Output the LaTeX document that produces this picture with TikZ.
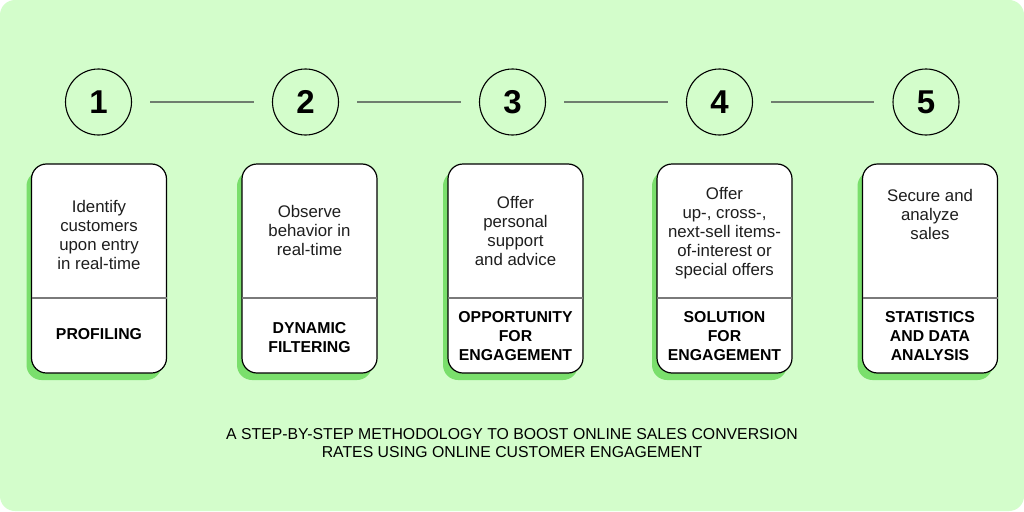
\documentclass[tikz,border=0pt]{standalone}
\usepackage{fontspec}
\setmainfont{Liberation Sans}
\usetikzlibrary{shadows,calc}
\definecolor{bgmint}{HTML}{D3FDCB}
\definecolor{shadowgreen}{HTML}{7ADF6C}
\definecolor{connline}{HTML}{6F7D6F}
\definecolor{divgray}{HTML}{7A7A7A}
\definecolor{inktext}{HTML}{1E1E1E}
\tikzset{
  stepcircle/.style={circle, draw=black, line width=1.1pt, minimum size=66pt, inner sep=0pt,
    font=\fontsize{33}{36}\selectfont\bfseries},
  conn/.style={draw=connline, line width=1.4pt, shorten <=18pt, shorten >=18pt},
  card/.style={rectangle, rounded corners=15pt, draw=black, line width=1.2pt, fill=white,
    minimum width=135pt, minimum height=209pt, inner sep=0pt,
    drop shadow={shadow xshift=-5pt, shadow yshift=-7pt, fill=shadowgreen, opacity=1}},
  divider/.style={draw=divgray, line width=2pt},
  toptext/.style={align=center, text=inktext, inner sep=0pt, font=\fontsize{16.8}{19}\selectfont},
  bottext/.style={align=center, text=black, inner sep=0pt, font=\fontsize{15.8}{19}\selectfont\bfseries},
  titletext/.style={align=center, text=black, inner sep=0pt, font=\fontsize{15.8}{18.5}\selectfont}
}
\begin{document}
\begin{tikzpicture}[x=1pt,y=-1pt]
\fill[white] (0,0) rectangle (1024,511);
\fill[bgmint, rounded corners=15pt] (0,0) rectangle (1024,511);
\useasboundingbox (0,0) rectangle (1024,511);

% circles
\node[stepcircle] (c1) at (98.5,102) {1};
\node[stepcircle] (c2) at (305.5,102) {2};
\node[stepcircle] (c3) at (512.5,102) {3};
\node[stepcircle] (c4) at (719.5,102) {4};
\node[stepcircle] (c5) at (926,102) {5};
\draw[conn] (c1) -- (c2);
\draw[conn] (c2) -- (c3);
\draw[conn] (c3) -- (c4);
\draw[conn] (c4) -- (c5);

% cards
\node[card] (k1) at (99,268.5) {};
\node[card] (k2) at (309.5,268.5) {};
\node[card] (k3) at (515.5,268.5) {};
\node[card] (k4) at (724.5,268.5) {};
\node[card] (k5) at (930,268.5) {};
\foreach \k in {k1,k2,k3,k4,k5}{
  \draw[divider] ($(\k.north west)+(0.6,135)$) -- ($(\k.north east)+(-0.6,135)$);
}

\node[toptext] (t1) at (99,235) {Identify\\customers\\upon entry\\in real-time};
\node[toptext] (t2) at (309.5,230.5) {Observe\\behavior in\\real-time};
\node[toptext] (t3) at (515.5,231.5) {Offer\\personal\\support\\and advice};
\node[toptext] (t4) at (724.5,233) {Offer\\up-, cross-,\\next-sell items-\\of-interest or\\special offers};
\node[toptext] (t5) at (930,214) {Secure and\\analyze\\sales};

\node[bottext] (b1) at (99,334.5) {PROFILING};
\node[bottext] (b2) at (309.5,337.5) {DYNAMIC\\FILTERING};
\node[bottext] (b3) at (515.5,336) {OPPORTUNITY\\FOR\\ENGAGEMENT};
\node[bottext] (b4) at (724.5,336) {SOLUTION\\FOR\\ENGAGEMENT};
\node[bottext] (b5) at (930,336) {STATISTICS\\AND DATA\\ANALYSIS};

\node[titletext] (title) at (512,443) {A STEP-BY-STEP METHODOLOGY TO BOOST ONLINE SALES CONVERSION\\RATES USING ONLINE CUSTOMER ENGAGEMENT};
\end{tikzpicture}
\end{document}
